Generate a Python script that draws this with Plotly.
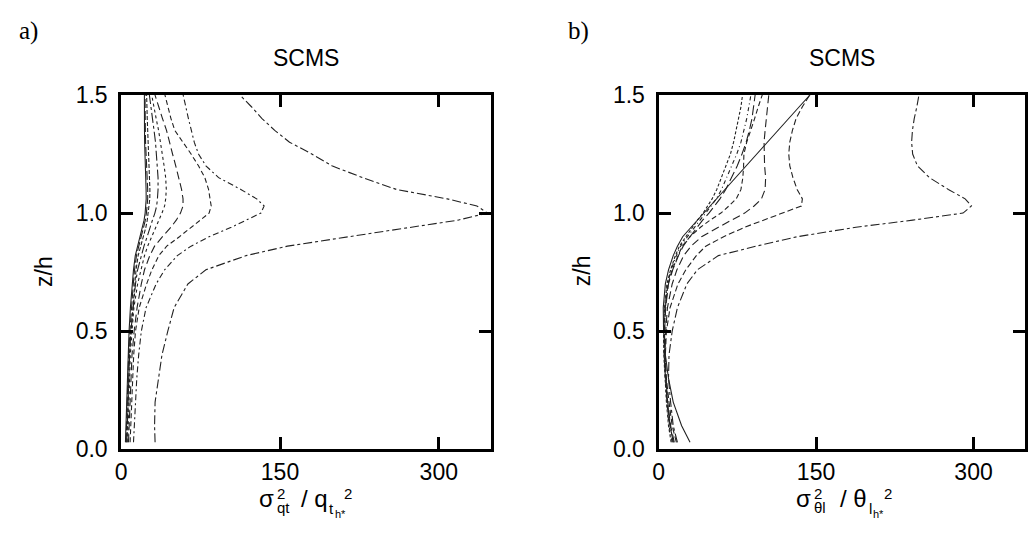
import plotly.graph_objects as go

# Common height grid (z/h) for all profiles
z_levels = [0.03, 0.1, 0.2, 0.3, 0.4, 0.5, 0.6, 0.7, 0.76, 0.82, 0.86, 0.9, 0.94,
            0.97, 1.0, 1.03, 1.06, 1.1, 1.15, 1.2, 1.25, 1.3, 1.35, 1.4, 1.45, 1.5]

# Panel a) total-water variance profiles
qt_a = [32, 31.5, 32, 35, 38.5, 44, 50, 63, 80, 118, 157, 215, 275,
        318, 346, 336, 308, 260, 228, 199, 180, 159, 145, 133, 123, 112]
qt_b = [11.6, 12.3, 13.3, 14.7, 16.5, 19, 23.5, 33, 41, 53, 66, 83, 104,
        118, 132, 135, 128, 113, 92, 80, 73, 69, 66, 63.5, 61, 58.5]
qt_c = [8.4, 9, 9.8, 10.7, 11.8, 13.5, 17, 24, 29, 35.5, 43, 55, 66,
        75, 83, 85, 84, 82.5, 79, 73, 66, 58, 50.6, 47, 44, 41.3]
qt_d = [6.9, 7.5, 8.3, 9.2, 10.2, 12.2, 15, 19, 22, 27, 31.5, 39, 47,
        52, 56, 58.4, 58.4, 57, 54.5, 51.5, 48.5, 45.5, 42.8, 39, 35.5, 31.9]
qt_e = [6.2, 6.6, 7.2, 7.8, 8.6, 10.2, 12, 15.5, 18.5, 22, 25, 29, 32.5,
        35.5, 38.5, 41, 42, 42.6, 42, 40.5, 39, 37.4, 35.3, 33, 31, 28.8]
qt_f = [5.3, 5.7, 6.2, 6.8, 7.9, 9.2, 11, 13.5, 15.5, 19, 21.5, 24.5, 27,
        29.5, 31.8, 33.5, 34.2, 34.8, 34.8, 34, 33.5, 32.4, 31, 29.7, 28.2, 26.6]
qt_g = [5.3, 5.7, 6.3, 7, 7.8, 9.2, 10.8, 12.8, 14, 16, 18.5, 21, 23.3,
        24.6, 25.6, 26.5, 27, 27.1, 26.6, 26.1, 25.7, 25.3, 24.9, 24.6, 24.3, 24]
qt_h = [4.6, 5, 5.6, 6.2, 7, 8.2, 9.6, 11.4, 12.6, 14.4, 16.6, 19, 21.4,
        22.8, 23.8, 24.6, 25, 25, 24.4, 23.8, 23.4, 23, 22.8, 22.6, 22.5, 22.5]
qt_i = [4.0, 4.4, 5, 5.6, 6.3, 7.4, 8.7, 10.4, 11.6, 13.3, 15.4, 17.8, 20.2,
        21.6, 22.6, 23.3, 23.6, 23.5, 23, 22.6, 22.3, 22.1, 22, 21.9, 21.9, 21.9]

# Panel b) liquid-water potential temperature variance profiles
th_a = [18, 14, 11.5, 9.5, 10, 13, 18, 27, 37, 57, 93, 132, 188,
        242, 290, 298, 292, 276, 258, 246.5, 242, 241, 241.8, 243.5, 246, 248]
th_b = [17, 13, 10, 7.5, 6.5, 7.5, 11, 18.5, 26, 36, 45, 62, 82,
        100, 118, 136, 137, 132, 128, 125, 124, 125, 127.5, 131, 137, 144]
th_c = [15, 11.5, 8.7, 7, 6.2, 6.8, 8.5, 13, 17.5, 24, 31, 41, 57,
        70, 82, 91, 98, 101.5, 102, 101, 100.5, 100.5, 101.5, 102.5, 103.8, 105]
th_d = [14, 11, 8.3, 6.5, 5.6, 5.6, 6.5, 9, 13, 18.5, 22.5, 30, 40,
        49, 59.4, 67, 74, 78.5, 80.3, 81, 81.3, 84, 88, 91.5, 95, 98.8]
th_e = [30, 22, 14, 9.5, 6.5, 4.8, 4.5, 6.5, 9.5, 14, 18, 23, 31,
        37, 43, 49, 55.5, 63.5, 73.5, 83.6, 93.8, 104, 114, 124, 134, 144.3]
th_f = [12, 9.5, 7.5, 6, 5, 4.8, 5.7, 8, 11.5, 16, 20, 26, 32,
        37, 42.5, 46.5, 51, 55.5, 60, 64.5, 68.5, 71.5, 74, 76.5, 78.5, 80]
th_g = [13, 10, 8, 6.3, 5.3, 5.2, 6, 8.5, 12, 17, 21, 27.5, 34,
        39.5, 45, 50, 55, 60, 65, 70, 74.5, 78.5, 81.5, 84, 86, 88]
th_h = [14, 11, 8.5, 6.8, 5.8, 5.8, 6.8, 9.5, 13.5, 19, 23.5, 30, 36.5,
        42, 48, 53.5, 58.5, 64, 69.5, 75, 79.5, 83.5, 86.5, 89, 90.5, 92]

x_ticks = [0, 150, 300]
z_ticks = [0.0, 0.5, 1.0, 1.5]
z_tick_text = ["0.0", "0.5", "1.0", "1.5"]

panel_a = [(qt_a, "dashdot"), (qt_b, "6px,3px,2px,3px"), (qt_c, "5px,3px"),
           (qt_d, "8px,4px"), (qt_e, "3px,3px"), (qt_f, "10px,3px,3px,3px"),
           (qt_g, "4px,2px"), (qt_h, "9px,3px"), (qt_i, "solid")]
panel_b = [(th_a, "dashdot"), (th_b, "6px,3px"), (th_c, "8px,4px"),
           (th_d, "5px,3px"), (th_e, "solid"), (th_f, "3px,2px"),
           (th_g, "4px,3px,1px,3px"), (th_h, "10px,4px")]

LINE_COLOR = "#222222"
fig = go.Figure()
for xs, dash in panel_a:
    fig.add_trace(go.Scatter(x=xs, y=z_levels, mode="lines", xaxis="x", yaxis="y",
                             line=dict(color=LINE_COLOR, width=1.1, dash=dash),
                             showlegend=False, hoverinfo="skip"))
for xs, dash in panel_b:
    fig.add_trace(go.Scatter(x=xs, y=z_levels, mode="lines", xaxis="x2", yaxis="y2",
                             line=dict(color=LINE_COLOR, width=1.1, dash=dash),
                             showlegend=False, hoverinfo="skip"))

W, H = 1028, 550
SANS = "Liberation Sans, Arial, sans-serif"
SERIF = "Liberation Serif, Times New Roman, serif"
tick_font = dict(family=SANS, size=23, color="black")


def xaxis_cfg(domain, anchor):
    return dict(domain=domain, anchor=anchor, range=[0, 349], tickmode="array",
                tickvals=x_ticks, ticktext=[str(v) for v in x_ticks],
                ticks="inside", ticklen=12, tickwidth=3, tickcolor="black",
                showline=True, linewidth=3, linecolor="black", mirror="ticks",
                showgrid=False, zeroline=False, tickfont=tick_font,
                ticklabelstandoff=0, fixedrange=True)


def yaxis_cfg(anchor):
    return dict(domain=[1 - 458 / H, 1 - 86 / H], anchor=anchor, range=[0, 1.5],
                tickmode="array", tickvals=z_ticks, ticktext=z_tick_text,
                ticks="inside", ticklen=12, tickwidth=3, tickcolor="black",
                showline=True, linewidth=3, linecolor="black", mirror="ticks",
                showgrid=False, zeroline=False, tickfont=tick_font,
                ticklabelstandoff=6, fixedrange=True)


fig.update_layout(
    width=W, height=H,
    margin=dict(l=0, r=0, t=0, b=0),
    paper_bgcolor="white", plot_bgcolor="white",
    xaxis=xaxis_cfg([116 / W, 488 / W], "y"),
    yaxis=yaxis_cfg("x"),
    xaxis2=xaxis_cfg([657 / W, 1026 / W], "y2"),
    yaxis2=yaxis_cfg("x2"),
)


def put(px, py, text, size, family=SANS, xanchor="center", angle=0):
    fig.add_annotation(x=px / W, y=1 - py / H, xref="paper", yref="paper",
                       text=text, showarrow=False, textangle=angle,
                       xanchor=xanchor, yanchor="middle", borderpad=0,
                       font=dict(family=family, size=size, color="black"))


# Panel letters, titles and z/h labels
put(23, 19, "a)", 25, SERIF)
put(576, 19, "b)", 25, SERIF)
put(302, 47, "SCMS", 23)
put(842, 47, "SCMS", 23)
put(38, 271, "z/h", 23, angle=-90)
put(580, 271, "z/h", 23, angle=-90)

# x-axis label of panel a): sigma^2_qt / q_t_h*^2 (exponent stacked over subscript)
put(271, 510, "σ", 24, xanchor="right")
put(272, 504, "2", 15, xanchor="left")
put(272, 519, "qt", 15, xanchor="left")
put(296, 510, "/ q", 24, xanchor="left")
put(324, 520, "t", 15, xanchor="left")
put(330, 526, "h*", 11, xanchor="left")
put(339, 504, "2", 15, xanchor="left")

# x-axis label of panel b): sigma^2_thetal / theta_l_h*^2
put(812, 510, "σ", 24, xanchor="right")
put(813, 504, "2", 15, xanchor="left")
put(813, 519, "θl", 15, xanchor="left")
put(839, 510, "/ θ", 24, xanchor="left")
put(868, 520, "l", 15, xanchor="left")
put(872, 526, "h*", 11, xanchor="left")
put(883, 504, "2", 15, xanchor="left")

fig.write_html(
    "out.html",
    config={"displayModeBar": False},
    post_script="document.body.style.margin='0';document.body.style.overflow='hidden';",
)
